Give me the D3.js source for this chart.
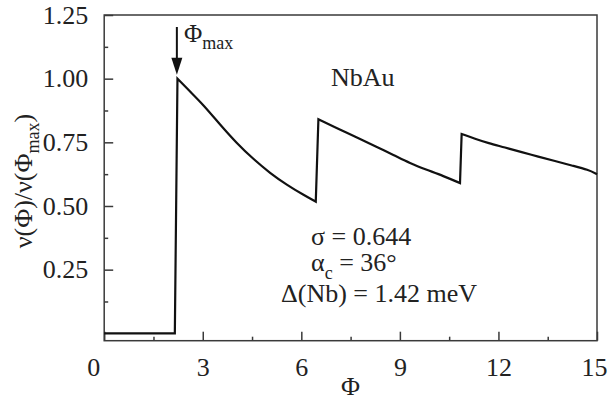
<!DOCTYPE html>
<html>
<head>
<meta charset="utf-8">
<script src="https://cdn.jsdelivr.net/npm/d3@7"></script>
<style>
  html, body { margin: 0; padding: 0; background: #fff; }
  svg text { font-family: "Liberation Serif", "DejaVu Serif", serif !important; fill: #222; }
</style>
</head>
<body>
<svg id="chart" width="611" height="401"></svg>
<script>
// Normalised frequency ν(Φ)/ν(Φmax) versus Φ for NbAu
const flatPhi = [0, 2.15];
const flatNu = [0, 0];
const branch1Phi = [2.23, 2.61, 3.02, 3.53, 4.03, 4.54, 5.05, 5.56, 6.06, 6.44];
const branch1Nu = [1.00, 0.950, 0.897, 0.819, 0.747, 0.684, 0.629, 0.583, 0.544, 0.517];
const branch2Phi = [6.52, 7.08, 7.79, 8.30, 8.80, 9.31, 9.82, 10.32, 10.83];
const branch2Nu = [0.841, 0.806, 0.763, 0.731, 0.701, 0.668, 0.642, 0.618, 0.590];
const branch3Phi = [10.88, 11.29, 11.69, 12.20, 12.71, 13.21, 13.72, 14.23, 14.74, 15.0];
const branch3Nu = [0.783, 0.764, 0.747, 0.730, 0.711, 0.694, 0.677, 0.659, 0.642, 0.625];

const xTicks = [0, 3, 6, 9, 12, 15];
const xMinorTicks = [1.5, 4.5, 7.5, 10.5, 13.5];
const yTicks = [0.25, 0.50, 0.75, 1.00, 1.25];
const yMinorTicks = [0.125, 0.375, 0.625, 0.875, 1.125];

const phiMax = 2.23;            // position of the first maximum
const params = ["σ = 0.644", "αc = 36°", "Δ(Nb) = 1.42 meV"];

const FONT = "'Liberation Serif', 'DejaVu Serif', serif";
const svg = d3.select("#chart");
const plot = { left: 104.2, right: 597, top: 15, bottom: 340.7 };

const x = d3.scaleLinear().domain([0, 15]).range([plot.left, plot.right]);
const y = d3.scaleLinear().domain([-0.029, 1.25]).range([plot.bottom, plot.top]);

const axisColor = "#3a3a3a";

// x axis: inward major and minor ticks
const gx = svg.append("g").attr("transform", `translate(0,${plot.bottom})`);
gx.call(d3.axisBottom(x).tickValues(xTicks).tickSizeInner(-9).tickSizeOuter(0)
  .tickFormat(d3.format("d")).tickPadding(17));
const gxm = svg.append("g").attr("transform", `translate(0,${plot.bottom})`);
gxm.call(d3.axisBottom(x).tickValues(xMinorTicks).tickSizeInner(-4).tickSizeOuter(0).tickFormat(""));

// y axis
const gy = svg.append("g").attr("transform", `translate(${plot.left},0)`);
gy.call(d3.axisLeft(y).tickValues(yTicks).tickSizeInner(-9).tickSizeOuter(0)
  .tickFormat(d3.format(".2f")).tickPadding(16));
const gym = svg.append("g").attr("transform", `translate(${plot.left},0)`);
gym.call(d3.axisLeft(y).tickValues(yMinorTicks).tickSizeInner(-4).tickSizeOuter(0).tickFormat(""));

[gx, gxm, gy, gym].forEach(g => {
  g.attr("font-family", FONT).attr("font-size", 26);
  g.select(".domain").remove();
  g.selectAll(".tick line").attr("stroke", axisColor).attr("stroke-width", 1.5);
  g.selectAll(".tick text").attr("fill", "#222");
});
// the 0 and 15 labels sit slightly inside
gx.selectAll(".tick text").attr("dx", d => d === 0 ? -11 : (d === 15 ? -3 : 0));

// plot frame
svg.append("rect")
  .attr("x", plot.left).attr("y", plot.top)
  .attr("width", plot.right - plot.left).attr("height", plot.bottom - plot.top)
  .attr("fill", "none").attr("stroke", axisColor).attr("stroke-width", 1.5);

// curve: flat part and vertical jumps are straight, the decaying branches smooth
const toPts = (ps, vs) => ps.map((p, i) => [p, vs[i]]);
const straight = d3.line().x(d => x(d[0])).y(d => y(d[1]));
const smooth = d3.line().x(d => x(d[0])).y(d => y(d[1])).curve(d3.curveBasis);
const cont = s => s.replace(/^M/, "L");
const d =
  straight(toPts(flatPhi, flatNu)) +
  cont(smooth(toPts(branch1Phi, branch1Nu))) +
  cont(smooth(toPts(branch2Phi, branch2Nu))) +
  cont(smooth(toPts(branch3Phi, branch3Nu)));
svg.append("path")
  .attr("d", d)
  .attr("fill", "none").attr("stroke", "#111").attr("stroke-width", 2.2)
  .attr("stroke-linejoin", "miter");

// Φmax arrow
const ax = x(phiMax) - 0.6;
const tipY = y(1.0) - 4;
svg.append("line")
  .attr("x1", ax).attr("x2", ax).attr("y1", 27).attr("y2", tipY - 14)
  .attr("stroke", "#111").attr("stroke-width", 2);
svg.append("path")
  .attr("d", `M${ax - 5.5},${tipY - 17} L${ax + 5.5},${tipY - 17} L${ax},${tipY} Z`)
  .attr("fill", "#111");

const phiLabel = svg.append("text").attr("x", 184).attr("y", 42).attr("font-size", 25);
phiLabel.append("tspan").text("Φ");
phiLabel.append("tspan").attr("dy", 7).attr("font-size", 18).text("max");

// sample label
svg.append("text").attr("x", 331).attr("y", 86).attr("font-size", 26).text("NbAu");

// fit parameters
svg.append("text").attr("x", 311).attr("y", 245).attr("font-size", 26).text(params[0]);
const alpha = svg.append("text").attr("x", 311).attr("y", 270.5).attr("font-size", 26);
alpha.append("tspan").text(params[1].slice(0, 1));
alpha.append("tspan").attr("dy", 8).attr("font-size", 18).text(params[1].slice(1, 2));
alpha.append("tspan").attr("dy", -8).text(params[1].slice(2));
svg.append("text").attr("x", 281).attr("y", 301.5).attr("font-size", 26).text(params[2]);

// axis titles
svg.append("text")
  .attr("x", (plot.left + plot.right) / 2).attr("y", 395)
  .attr("text-anchor", "middle").attr("font-size", 26).text("Φ");

const yTitle = svg.append("text")
  .attr("transform", `translate(32,${181}) rotate(-90)`)
  .attr("text-anchor", "middle").attr("font-size", 26);
yTitle.append("tspan").text("ν(Φ)/ν(Φ");
yTitle.append("tspan").attr("dy", 7).attr("font-size", 18).text("max");
yTitle.append("tspan").attr("dy", -7).text(")");
</script>
</body>
</html>
